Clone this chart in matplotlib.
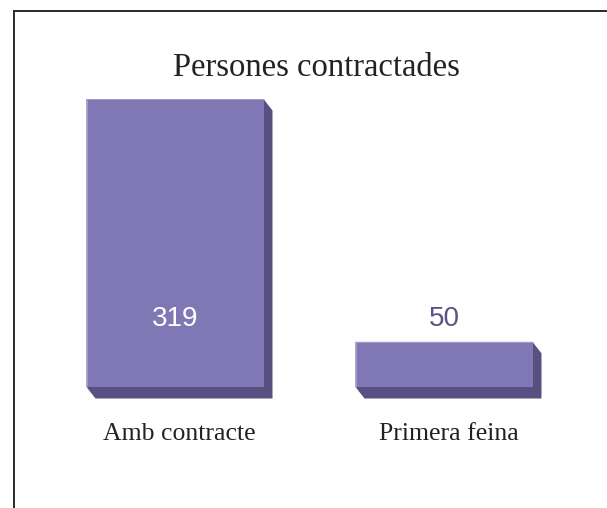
import matplotlib
matplotlib.use("Agg")
import matplotlib.pyplot as plt
from matplotlib.patches import Polygon

# ---- data ----
categories = ["Amb contracte", "Primera feina"]
values = [319, 50]
title = "Persones contractades"

# ---- style ----
front_col = "#8078b4"
side_col = "#585081"
edge_light = "#a8a2d0"
label_dark = "#5a5288"
text_col = "#222222"
serif = ["Liberation Serif", "DejaVu Serif"]
narrow = ["Liberation Sans Narrow", "Liberation Sans", "DejaVu Sans"]

W, H, DPI = 607, 508, 100
fig = plt.figure(figsize=(W / DPI, H / DPI), dpi=DPI)

# axes geometry in pixels
ax_l, ax_r, ax_t, ax_b = 14, 614, 11, 508
ax = fig.add_axes([ax_l / W, (H - ax_b) / H, (ax_r - ax_l) / W, (ax_b - ax_t) / H])

cat_step_px = 269.0      # pixels between category centres
x0_px = 175.0            # pixel of first category centre
base_px = 387.0          # pixel of y=0
unit_px = 288.0 / 319.0  # pixels per value unit

ax.set_xlim(-(x0_px - ax_l) / cat_step_px, (ax_r - x0_px) / cat_step_px)
ax.set_ylim(-(ax_b - base_px) / unit_px, (base_px - ax_t) / unit_px)

bar_w = 177.0 / cat_step_px
dx = 9.0 / cat_step_px
dy = 11.5 / unit_px

xs = list(range(len(categories)))

# extrusion (side faces)
for x, v in zip(xs, values):
    xl, xr = x - bar_w / 2, x + bar_w / 2
    poly = Polygon([(xl, v), (xr, v), (xr + dx, v - dy), (xr + dx, -dy),
                    (xl + dx, -dy), (xl, 0)],
                   closed=True, facecolor=side_col, edgecolor="none", zorder=1)
    ax.add_patch(poly)

ax.bar(xs, values, width=bar_w, color=front_col, edgecolor="none", zorder=2)
for x, v in zip(xs, values):
    xl, xr = x - bar_w / 2, x + bar_w / 2
    ax.plot([xl, xl, xr], [0, v, v], color=edge_light, lw=0.6, zorder=3,
            solid_capstyle="butt")

# value labels
label_y = 75
for x, v in zip(xs, values):
    col = "white" if v > label_y + 15 else label_dark
    ax.text(x, label_y, f"{v}", ha="center", va="center", color=col,
            fontsize=20, family=narrow, zorder=4)

# category labels
for x, c in zip(xs, categories):
    ax.text(x + dx / 2, -(440 - base_px) / unit_px, c, ha="center", va="baseline",
            color=text_col, fontsize=18.5, family=serif)

# title
ax.text((316.5 - x0_px) / cat_step_px, (base_px - 76) / unit_px, title,
        ha="center", va="baseline", color=text_col, fontsize=23.5, family=serif)

for s in ["right", "bottom"]:
    ax.spines[s].set_visible(False)
for s in ["left", "top"]:
    ax.spines[s].set_color("#2a2a2a")
    ax.spines[s].set_linewidth(1.4)
ax.set_xticks([])
ax.set_yticks([])
ax.patch.set_alpha(0)

fig.savefig("out.png", dpi=DPI)
